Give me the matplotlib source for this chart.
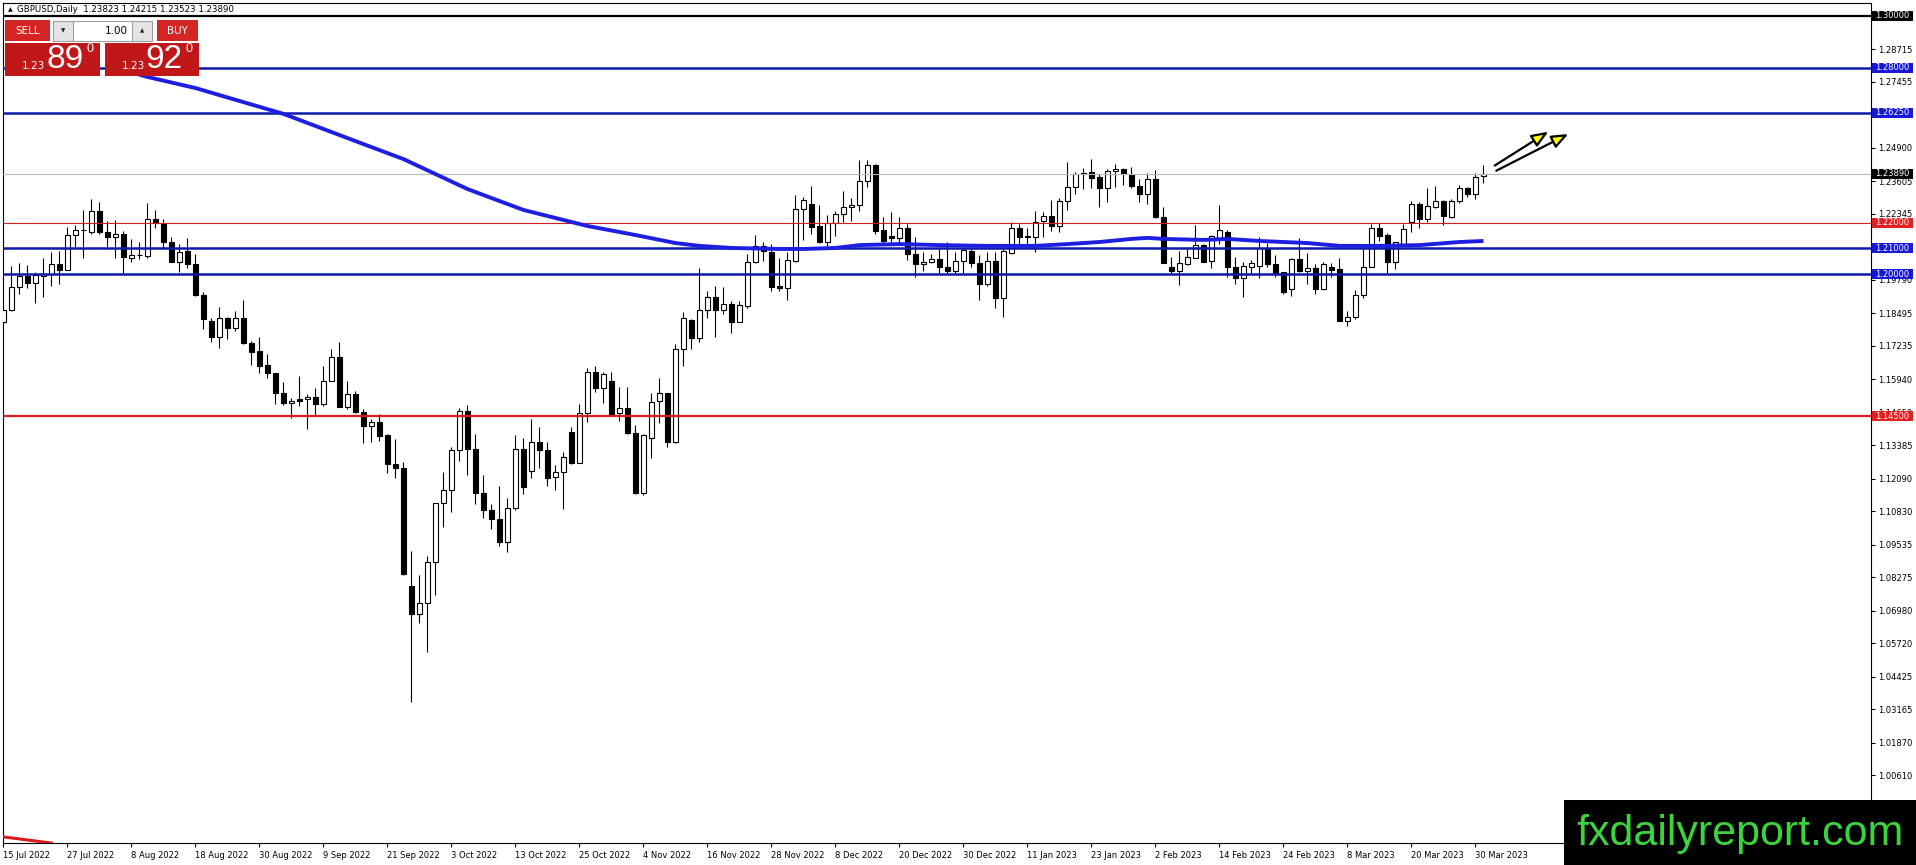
import matplotlib
matplotlib.use('Agg')
import matplotlib.pyplot as plt
from matplotlib.patches import Rectangle, FancyArrowPatch
import matplotlib.transforms as mtransforms

# ---------------- data ----------------
opens = [
1.1817, 1.1862, 1.1950, 1.1994, 1.1968, 1.1995, 1.2000, 1.2039, 1.2018, 1.2151,
1.2172, 1.2165, 1.2244, 1.2163, 1.2143, 1.2155, 1.2062, 1.2075, 1.2072, 1.2213,
1.2195, 1.2126, 1.2049, 1.2089, 1.2041, 1.1920, 1.1819, 1.1759, 1.1830, 1.1791,
1.1830, 1.1733, 1.1703, 1.1649, 1.1617, 1.1539, 1.1501, 1.1516, 1.1516, 1.1526,
1.1497, 1.1588, 1.1679, 1.1488, 1.1535, 1.1466, 1.1413, 1.1427, 1.1378, 1.1265,
1.1249, 1.0793, 1.0684, 1.0726, 1.0885, 1.1113, 1.1165, 1.1320, 1.1471, 1.1322,
1.1155, 1.1088, 1.1051, 1.0962, 1.1094, 1.1322, 1.1239, 1.1352, 1.1320, 1.1214,
1.1233, 1.1391, 1.1271, 1.1464, 1.1623, 1.1559, 1.1588, 1.1462, 1.1481, 1.1384,
1.1155, 1.1365, 1.1510, 1.1539, 1.1352, 1.1710, 1.1823, 1.1752, 1.1861, 1.1911,
1.1861, 1.1884, 1.1817, 1.1879, 1.2049, 1.2110, 1.2088, 1.1954, 1.1946, 1.2053,
1.2251, 1.2272, 1.2188, 1.2126, 1.2200, 1.2232, 1.2259, 1.2267, 1.2361, 1.2423,
1.2171, 1.2148, 1.2139, 1.2178, 1.2079, 1.2039, 1.2046, 1.2058, 1.2027, 1.2014,
1.2052, 1.2090, 1.2042, 1.1961, 1.2052, 1.1907, 1.2081, 1.2178, 1.2147, 1.2143,
1.2206, 1.2226, 1.2188, 1.2284, 1.2339, 1.2391, 1.2395, 1.2375, 1.2333, 1.2400,
1.2407, 1.2387, 1.2343, 1.2311, 1.2368, 1.2221, 1.2027, 1.2014, 1.2041, 1.2064,
1.2113, 1.2053, 1.2137, 1.2165, 1.2027, 1.1984, 1.2029, 1.2034, 1.2101, 1.2039,
1.2008, 1.1942, 1.2059, 1.2014, 1.2023, 1.1942, 1.2030, 1.2019, 1.1821, 1.1836,
1.1920, 1.2030, 1.2181, 1.2152, 1.2049, 1.2117, 1.2201, 1.2271, 1.2213, 1.2262,
1.2285, 1.2223, 1.2284, 1.2335, 1.2311, 1.23823]

highs = [
1.1875, 1.2032, 1.2043, 1.2036, 1.2010, 1.2062, 1.2085, 1.2090, 1.2182, 1.2191,
1.2248, 1.2292, 1.2281, 1.2205, 1.2210, 1.2168, 1.2135, 1.2126, 1.2275, 1.2249,
1.2214, 1.2146, 1.2116, 1.2142, 1.2077, 1.1933, 1.1830, 1.1875, 1.1836, 1.1859,
1.1901, 1.1742, 1.1756, 1.1691, 1.1618, 1.1584, 1.1520, 1.1606, 1.1535, 1.1559,
1.1645, 1.1711, 1.1737, 1.1587, 1.1550, 1.1479, 1.1440, 1.1459, 1.1382, 1.1362,
1.1272, 1.0929, 1.0836, 1.0911, 1.1115, 1.1233, 1.1330, 1.1484, 1.1493, 1.1382,
1.1223, 1.1111, 1.1180, 1.1133, 1.1378, 1.1368, 1.1440, 1.1408, 1.1352, 1.1262,
1.1313, 1.1408, 1.1498, 1.1636, 1.1645, 1.1623, 1.1623, 1.1562, 1.1562, 1.1417,
1.1382, 1.1539, 1.1597, 1.1541, 1.1730, 1.1853, 1.1825, 1.2023, 1.1937, 1.1955,
1.1950, 1.1898, 1.1898, 1.2079, 1.2152, 1.2126, 1.2116, 1.2062, 1.2088, 1.2307,
1.2301, 1.2342, 1.2268, 1.2230, 1.2245, 1.2322, 1.2294, 1.2442, 1.2442, 1.2426,
1.2223, 1.2240, 1.2223, 1.2193, 1.2143, 1.2088, 1.2077, 1.2101, 1.2124, 1.2088,
1.2098, 1.2098, 1.2075, 1.2085, 1.2088, 1.2101, 1.2204, 1.2193, 1.2178, 1.2245,
1.2242, 1.2288, 1.2297, 1.2433, 1.2397, 1.2410, 1.2446, 1.2387, 1.2406, 1.2428,
1.2413, 1.2414, 1.2368, 1.2391, 1.2404, 1.2262, 1.2068, 1.2092, 1.2107, 1.2191,
1.2116, 1.2152, 1.2268, 1.2171, 1.2066, 1.2046, 1.2055, 1.2143, 1.2120, 1.2075,
1.2010, 1.2065, 1.2139, 1.2084, 1.2040, 1.2049, 1.2043, 1.2065, 1.1858, 1.1939,
1.2101, 1.2195, 1.2198, 1.2159, 1.2126, 1.2195, 1.2285, 1.2281, 1.2333, 1.2342,
1.2286, 1.2292, 1.2345, 1.2339, 1.2391, 1.24215]

lows = [
1.1804, 1.1858, 1.1923, 1.1948, 1.1888, 1.1914, 1.1956, 1.1961, 1.2015, 1.2106,
1.2062, 1.2155, 1.2155, 1.2097, 1.2062, 1.2004, 1.2046, 1.2059, 1.2062, 1.2178,
1.2097, 1.2046, 1.2008, 1.2026, 1.1917, 1.1788, 1.1739, 1.1714, 1.1750, 1.1781,
1.1730, 1.1647, 1.1617, 1.1597, 1.1497, 1.1494, 1.1442, 1.1490, 1.1401, 1.1455,
1.1490, 1.1586, 1.1486, 1.1477, 1.1462, 1.1348, 1.1352, 1.1355, 1.1232, 1.1210,
1.0837, 1.0343, 1.0651, 1.0539, 1.0758, 1.1023, 1.1081, 1.1279, 1.1223, 1.1111,
1.1055, 1.1014, 1.0949, 1.0924, 1.1087, 1.1148, 1.1210, 1.1251, 1.1182, 1.1165,
1.1090, 1.1264, 1.1268, 1.1427, 1.1546, 1.1500, 1.1455, 1.1433, 1.1382, 1.1148,
1.1146, 1.1288, 1.1426, 1.1330, 1.1348, 1.1645, 1.1710, 1.1737, 1.1830, 1.1759,
1.1848, 1.1774, 1.1815, 1.1871, 1.2042, 1.2053, 1.1937, 1.1937, 1.1901, 1.2049,
1.2133, 1.2156, 1.2122, 1.2107, 1.2148, 1.2204, 1.2206, 1.2245, 1.2339, 1.2155,
1.2117, 1.2120, 1.2117, 1.2055, 1.1991, 1.2014, 1.2042, 1.2006, 1.2006, 1.2006,
1.2004, 1.2030, 1.1901, 1.1956, 1.1871, 1.1836, 1.2080, 1.2110, 1.2110, 1.2085,
1.2146, 1.2169, 1.2165, 1.2249, 1.2310, 1.2330, 1.2333, 1.2259, 1.2279, 1.2339,
1.2346, 1.2333, 1.2281, 1.2271, 1.2217, 1.2042, 1.2004, 1.1959, 1.2036, 1.2062,
1.2046, 1.2026, 1.2116, 1.1988, 1.1961, 1.1911, 1.2004, 1.1984, 1.2030, 1.1988,
1.1924, 1.1917, 1.2010, 1.1961, 1.1924, 1.1939, 1.1991, 1.1818, 1.1801, 1.1827,
1.1907, 1.2028, 1.2130, 1.2004, 1.2020, 1.2115, 1.2165, 1.2178, 1.2201, 1.2255,
1.2191, 1.2217, 1.2277, 1.2301, 1.2290, 1.23523]

closes = [
1.1862, 1.1950, 1.1994, 1.1968, 1.1997, 1.2000, 1.2039, 1.2018, 1.2151, 1.2172,
1.2173, 1.2244, 1.2163, 1.2143, 1.2155, 1.2066, 1.2075, 1.2076, 1.2213, 1.2199,
1.2126, 1.2049, 1.2088, 1.2041, 1.1920, 1.1826, 1.1759, 1.1830, 1.1791, 1.1830,
1.1733, 1.1701, 1.1645, 1.1617, 1.1539, 1.1503, 1.1511, 1.1511, 1.1526, 1.1497,
1.1587, 1.1679, 1.1488, 1.1535, 1.1466, 1.1414, 1.1427, 1.1375, 1.1264, 1.1249,
1.0838, 1.0684, 1.0726, 1.0885, 1.1113, 1.1165, 1.1320, 1.1471, 1.1322, 1.1155,
1.1088, 1.1051, 1.0962, 1.1094, 1.1322, 1.1175, 1.1352, 1.1320, 1.1213, 1.1233,
1.1291, 1.1271, 1.1464, 1.1623, 1.1559, 1.1613, 1.1459, 1.1481, 1.1384, 1.1155,
1.1378, 1.1507, 1.1539, 1.1352, 1.1710, 1.1830, 1.1752, 1.1861, 1.1911, 1.1861,
1.1884, 1.1817, 1.1881, 1.2049, 1.2110, 1.2090, 1.1952, 1.1946, 1.2055, 1.2251,
1.2288, 1.2184, 1.2126, 1.2200, 1.2232, 1.2261, 1.2267, 1.2361, 1.2423, 1.2168,
1.2130, 1.2139, 1.2178, 1.2077, 1.2039, 1.2046, 1.2058, 1.2027, 1.2014, 1.2052,
1.2094, 1.2042, 1.1961, 1.2052, 1.1907, 1.2090, 1.2178, 1.2146, 1.2146, 1.2204,
1.2227, 1.2188, 1.2284, 1.2339, 1.2387, 1.2387, 1.2372, 1.2333, 1.2400, 1.2408,
1.2391, 1.2343, 1.2311, 1.2368, 1.2221, 1.2045, 1.2014, 1.2042, 1.2066, 1.2113,
1.2049, 1.2150, 1.2170, 1.2027, 1.1984, 1.2033, 1.2042, 1.2101, 1.2039, 1.2004,
1.1933, 1.2059, 1.2014, 1.2023, 1.1942, 1.2039, 1.2017, 1.1821, 1.1836, 1.1920,
1.2027, 1.2181, 1.2150, 1.2049, 1.2124, 1.2175, 1.2271, 1.2213, 1.2264, 1.2284,
1.2227, 1.2285, 1.2335, 1.2311, 1.2378, 1.23890]

# moving average (blue) read at bar indices
ma_bars = [14, 18, 24, 35, 45, 50, 58, 65, 73, 79, 84, 87, 91, 97, 100, 104, 107,
           112, 117, 123, 129, 133, 137, 141, 143, 145, 150, 153, 157, 163, 167,
           172, 177, 182, 185]
ma_vals = [1.2799, 1.2764, 1.2721, 1.2621, 1.2504, 1.2446, 1.2330, 1.2249, 1.2187,
           1.2152, 1.2121, 1.2110, 1.2102, 1.2098, 1.2098, 1.2102, 1.2113, 1.2117,
           1.2113, 1.2110, 1.2110, 1.2117, 1.2125, 1.2137, 1.2141, 1.2137, 1.2133,
           1.2137, 1.2129, 1.2121, 1.2110, 1.2110, 1.2113, 1.2125, 1.2129]

# second (red) moving average, visible only at bottom-left
red_ma_bars = [0, 1, 2, 3, 4, 5, 6]
red_ma_vals = [0.9822, 0.9818, 0.9814, 0.9810, 0.9806, 0.9802, 0.9798]

# horizontal levels
level_vals = [1.30, 1.28, 1.2625, 1.2389, 1.22, 1.21, 1.20, 1.145]
level_kind = ['black', 'blue', 'blue', 'gray', 'red_thin', 'blue', 'blue', 'red']
level_labels = ['1.30000', '1.28000', '1.26250', '1.23890', '1.22000', '1.21000',
                '1.20000', '1.14500']

# price axis ticks
tick_vals = [1.28715, 1.27455, 1.26170, 1.24900, 1.23605, 1.22345, 1.21050,
             1.19790, 1.18495, 1.17235, 1.15940, 1.14650, 1.13385, 1.12090,
             1.10830, 1.09535, 1.08275, 1.06980, 1.05720, 1.04425, 1.03165,
             1.01870, 1.00610]

# date axis
date_bars = [0, 8, 16, 24, 32, 40, 48, 56, 64, 72, 80, 88, 96, 104, 112, 120,
             128, 136, 144, 152, 160, 168, 176, 184]
date_labels = ['15 Jul 2022', '27 Jul 2022', '8 Aug 2022', '18 Aug 2022',
               '30 Aug 2022', '9 Sep 2022', '21 Sep 2022', '3 Oct 2022',
               '13 Oct 2022', '25 Oct 2022', '4 Nov 2022', '16 Nov 2022',
               '28 Nov 2022', '8 Dec 2022', '20 Dec 2022', '30 Dec 2022',
               '11 Jan 2023', '23 Jan 2023', '2 Feb 2023', '14 Feb 2023',
               '24 Feb 2023', '8 Mar 2023', '20 Mar 2023', '30 Mar 2023']

# drawn arrows (bar, price)
arrow_tails = [(186.4, 1.2421), (186.6, 1.2401)]
arrow_heads = [(193.1, 1.2552), (195.6, 1.2543)]

# ---------------- styling ----------------
W, H = 1916, 865
BLUE_LINE = '#0d1aa8'
BLUE_BOX = '#1818d8'
RED = '#d81c1c'
MA_BLUE = '#1e1ee2'

fig = plt.figure(figsize=(W / 100, H / 100), dpi=100)
fig.patch.set_facecolor('white')
ax = fig.add_axes([3 / W, 22 / H, 1868 / W, 840 / H])
ax.set_facecolor('white')
YMIN, YMAX = 0.97983, 1.30503
ax.set_xlim(-0.0625, 233.44)
ax.set_ylim(YMIN, YMAX)

n = min(len(opens), len(highs), len(lows), len(closes))
xs = list(range(n))
ax.vlines(xs, lows[:n], highs[:n], color='black', lw=0.8, zorder=2)
bottoms, heights, fcols = [], [], []
for i in range(n):
    o, c = opens[i], closes[i]
    bottoms.append(min(o, c))
    heights.append(max(abs(c - o), 0.00004))
    fcols.append('white' if c >= o else 'black')
ax.bar(xs, heights, bottom=bottoms, width=0.64, color=fcols,
       edgecolor='black', linewidth=0.8, zorder=3)

# levels
styles = {'black': ('black', 1.6), 'blue': (BLUE_LINE, 1.8),
          'gray': ('#b8b8b8', 0.8), 'red_thin': (RED, 0.8), 'red': (RED, 1.6)}
for v, k in zip(level_vals, level_kind):
    col, lw = styles[k]
    ax.axhline(v, color=col, lw=lw, zorder=4)

# moving averages
ax.plot(ma_bars, ma_vals, color=MA_BLUE, lw=2.8, zorder=5,
        solid_joinstyle='round', solid_capstyle='butt')
ax.plot(red_ma_bars, red_ma_vals, color=RED, lw=2.2, zorder=5)

# arrows
for t, hd in zip(arrow_tails, arrow_heads):
    ax.add_patch(FancyArrowPatch(t, hd, arrowstyle='-|>,head_length=10,head_width=4',
                                 mutation_scale=1, facecolor='#ffff00',
                                 edgecolor='black', lw=1.6, zorder=6,
                                 shrinkA=0, shrinkB=0, clip_on=False))

# axes frame / ticks
for sp in ax.spines.values():
    sp.set_color('black')
    sp.set_linewidth(0.8)
ax.yaxis.tick_right()
ax.set_yticks(tick_vals)
ax.set_yticklabels([f'{v:.5f}' for v in tick_vals])
ax.tick_params(axis='y', which='both', direction='out', length=3, width=0.8,
               pad=2, labelsize=6, colors='black')
ax.set_xticks(date_bars)
ax.set_xticklabels(date_labels, fontsize=6, ha='left')
ax.tick_params(axis='x', direction='out', length=3, width=0.8, pad=2.5)
ax.set_ylim(YMIN, YMAX)
ax.set_xlim(-0.0625, 233.44)

# ---------------- overlay (panel, header, price boxes, watermark) ----------------
ov = fig.add_axes([0, 0, 1, 1], zorder=10)
ov.set_xlim(0, W)
ov.set_ylim(H, 0)
ov.axis('off')
ov.patch.set_alpha(0)

# level price boxes on the price scale (drawn above the tick labels)
trans = mtransforms.blended_transform_factory(ax.transAxes, ax.transData)
px = (YMAX - YMIN) / 840.0
box_colors = {'black': 'black', 'blue': BLUE_BOX, 'gray': 'black',
              'red_thin': '#e52020', 'red': '#e52020'}
for v, k, lab in zip(level_vals, level_kind, level_labels):
    ov.add_patch(Rectangle((1.00054, v - 5 * px), 0.02195, 10 * px, transform=trans,
                           facecolor=box_colors[k], edgecolor='none',
                           clip_on=False, zorder=10))
    ov.text(1.00054 + 0.011, v, lab, transform=trans, color='white', fontsize=6,
            ha='center', va='center', clip_on=False, zorder=11)

ov.text(8, 9.5, '▲', fontsize=4.5, ha='left', va='center', color='black')
ov.text(17, 9.5, 'GBPUSD,Daily  1.23823 1.24215 1.23523 1.23890', fontsize=6.2,
        ha='left', va='center', color='black')

BTN = '#d42424'
BIG = '#c01818'
ov.add_patch(Rectangle((5, 20), 45, 21, facecolor=BTN, edgecolor='none'))
ov.text(27.5, 31, 'SELL', color='white', fontsize=7.5, ha='center', va='center')
ov.add_patch(Rectangle((53, 21), 20, 20, facecolor='#e4e4e4', edgecolor='#9a9a9a', lw=0.7))
ov.text(63, 31, '▼', color='#222222', fontsize=4, ha='center', va='center')
ov.add_patch(Rectangle((73, 21), 59, 20, facecolor='white', edgecolor='#9a9a9a', lw=0.7))
ov.text(128, 31, '1.00', color='black', fontsize=7.5, ha='right', va='center')
ov.add_patch(Rectangle((132, 21), 20, 20, facecolor='#e4e4e4', edgecolor='#9a9a9a', lw=0.7))
ov.text(142, 31, '▲', color='#222222', fontsize=4, ha='center', va='center')
ov.add_patch(Rectangle((157, 20), 41, 21, facecolor=BTN, edgecolor='none'))
ov.text(177.5, 31, 'BUY', color='white', fontsize=7.5, ha='center', va='center')

ov.add_patch(Rectangle((5, 43), 95, 33, facecolor=BIG, edgecolor='none'))
ov.add_patch(Rectangle((105, 43), 94, 33, facecolor=BIG, edgecolor='none'))
ov.text(33, 66, '1.23', color='white', fontsize=7.5, ha='center', va='center')
ov.text(65, 59, '89', color='white', fontsize=24, family='Liberation Sans',
        ha='center', va='center')
ov.text(90, 49, '0', color='white', fontsize=9, family='Liberation Sans',
        ha='center', va='center')
ov.text(133, 66, '1.23', color='white', fontsize=7.5, ha='center', va='center')
ov.text(164, 59, '92', color='white', fontsize=24, family='Liberation Sans',
        ha='center', va='center')
ov.text(189, 49, '0', color='white', fontsize=9, family='Liberation Sans',
        ha='center', va='center')

ov.add_patch(Rectangle((1564, 800), 352, 65, facecolor='black', edgecolor='none'))
ov.text(1740, 845, 'fxdailyreport.com', color='#3cd43c', fontsize=31,
        family='Liberation Sans', ha='center', va='baseline')

fig.savefig('out.png', dpi=100, facecolor='white')
